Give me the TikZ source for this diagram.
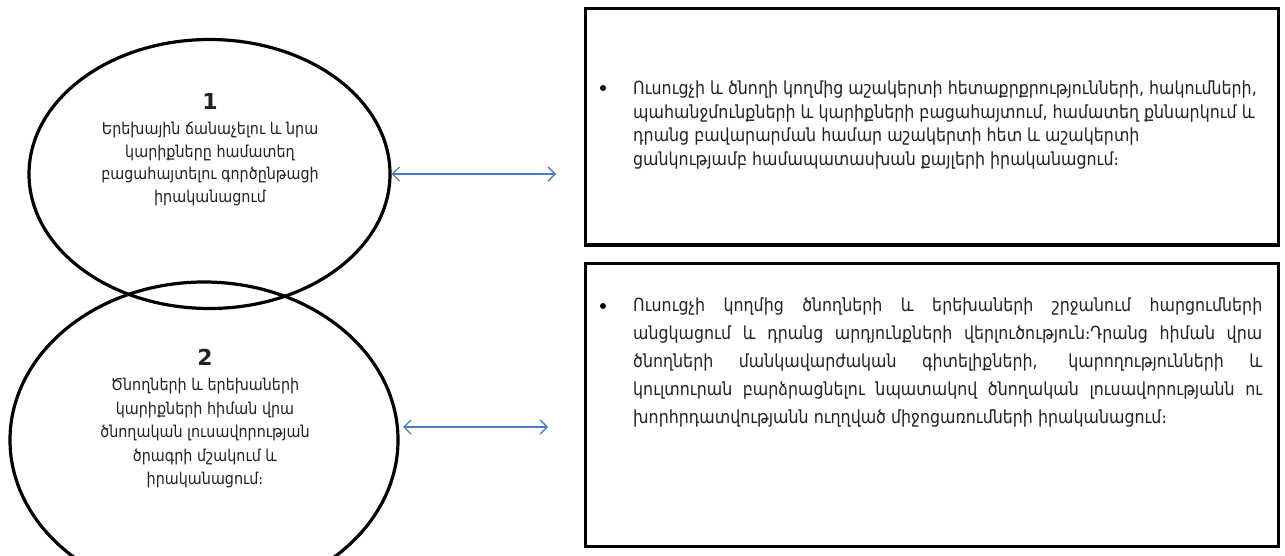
\documentclass[tikz,border=0pt]{standalone}
\usepackage{fontspec}
\setmainfont{DejaVu Sans}
\newfontfamily\armfont[FakeStretch=0.88]{DejaVu Sans}
\newfontfamily\numfont{DejaVu Sans}
\usetikzlibrary{shapes.geometric,arrows.meta}
\definecolor{txt}{HTML}{222222}
\definecolor{arrowblue}{HTML}{4A7CC4}
\tikzset{
  oval/.style={draw=black, line width=3.2pt, ellipse, inner sep=0pt},
  frame/.style={draw=black, line width=3pt, rectangle, inner sep=0pt},
  ovaltext/.style={text=txt, align=center, font=\armfont\fontsize{16.3}{22.5}\selectfont, inner sep=0pt},
  numtext/.style={text=txt, font=\numfont\bfseries\fontsize{22}{24}\selectfont, inner sep=0pt},
  boxtext/.style={text=txt, font=\armfont\fontsize{18}{23.8}\selectfont, inner sep=0pt},
  bullet/.style={fill=black, circle, minimum size=6pt, inner sep=0pt},
  link/.style={draw=arrowblue, line width=1.3pt, {Straight Barb[length=7pt,width=14pt]}-{Straight Barb[length=7pt,width=14pt]}}
}
\begin{document}
\begin{tikzpicture}[x=1pt,y=-1pt]
\useasboundingbox[fill=white] (0,0) rectangle (1285,556);
% ellipses
\node[oval, minimum width=361pt, minimum height=269pt] (e1) at (209.5,174) {};
\node[oval, minimum width=388pt, minimum height=316pt] (e2) at (204,440) {};
% boxes
\node[frame, minimum width=693pt, minimum height=236pt] (b1) at (931.5,127) {};
\node[frame, minimum width=693pt, minimum height=283pt] (b2) at (931.5,404.5) {};
% ellipse texts
\node[numtext] (n1) at (210,101) {1};
\node[ovaltext] (t1) at (210,164) {Երեխային ճանաչելու և  նրա\\կարիքները  համատեղ\\բացահայտելու գործընթացի\\իրականացում};
\node[numtext] (n2) at (205,357) {2};
\node[ovaltext, font=\armfont\fontsize{16.3}{23.5}\selectfont] (t2) at (205,433.5) {Ծնողների և երեխաների\\կարիքների հիման վրա\\ծնողական  լուսավորության\\ծրագրի  մշակում և\\իրականացում։};
% box texts
\node[bullet] (p1) at (603,88) {};
\node[boxtext, anchor=west, align=left] (x1) at (633,125) {Ուսուցչի և ծնողի կողմից աշակերտի  հետաքրքրությունների, հակումների,\\պահանջմունքների և կարիքների բացահայտում, համատեղ քննարկում և\\դրանց բավարարման համար աշակերտի հետ  և  աշակերտի\\ցանկությամբ համապատասխան քայլերի իրականացում։};
\node[bullet] (p2) at (603,306) {};
\node[boxtext, font=\armfont\fontsize{18}{28}\selectfont, anchor=west, text width=629pt, align=justify] (x2) at (633,362.5) {\hyphenpenalty=10000 Ուսուցչի   կողմից ծնողների և երեխաների   շրջանում հարցումների\linebreak անցկացում և դրանց արդյունքների վերլուծություն։Դրանց հիման վրա\linebreak ծնողների   մանկավարժական գիտելիքների, կարողությունների և\linebreak կուլտուրան բարձրացնելու նպատակով ծնողական լուսավորությանն ու\linebreak խորհրդատվությանն ուղղված միջոցառումների իրականացում։};
% connectors
\coordinate (a1) at (556,174);
\coordinate (a2s) at (403,427);
\coordinate (a2e) at (548,427);
\draw[link] (e1.east) -- (a1);
\draw[link] (a2s) -- (a2e);
\end{tikzpicture}
\end{document}
